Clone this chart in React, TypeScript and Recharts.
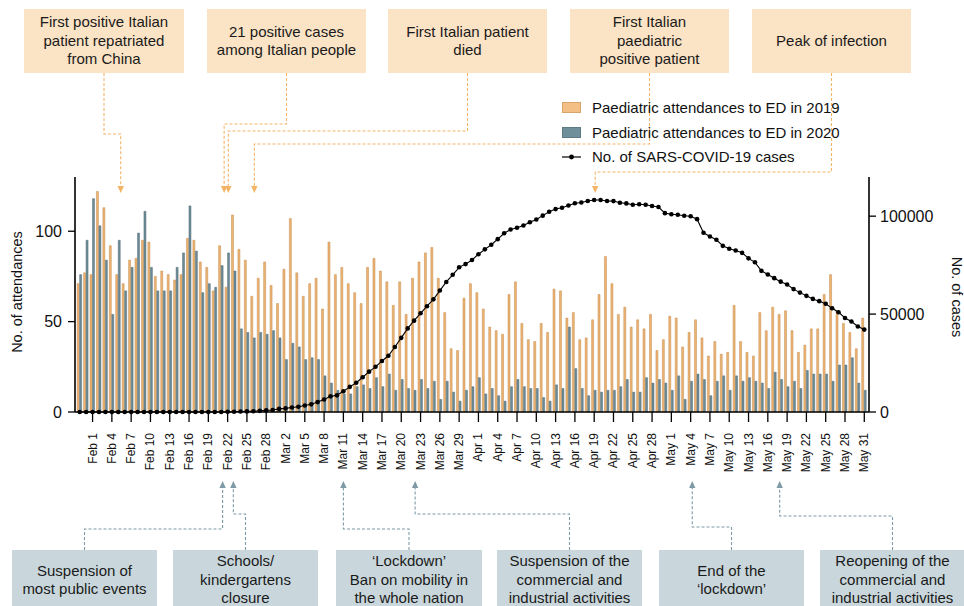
import React from "react";
import { ComposedChart, Bar, Line, XAxis, YAxis } from "recharts";

const FONT = '"Liberation Sans", Arial, Helvetica, sans-serif';

// days shown on the x axis, Jan 30 to May 31 2020
const MONTH_SPANS: [string, number, number][] = [
  ["Jan", 30, 31],
  ["Feb", 1, 29],
  ["Mar", 1, 31],
  ["Apr", 1, 30],
  ["May", 1, 31],
];
const DAYS: string[] = MONTH_SPANS.flatMap(([m, from, to]) =>
  Array.from({ length: to - from + 1 }, (_, k) => `${m} ${from + k}`)
);

const TICK_LABELS = [
  "Feb 1", "Feb 4", "Feb 7", "Feb 10", "Feb 13", "Feb 16", "Feb 19", "Feb 22", "Feb 25", "Feb 28",
  "Mar 2", "Mar 5", "Mar 8", "Mar 11", "Mar 14", "Mar 17", "Mar 20", "Mar 23", "Mar 26", "Mar 29",
  "Apr 1", "Apr 4", "Apr 7", "Apr 10", "Apr 13", "Apr 16", "Apr 19", "Apr 22", "Apr 25", "Apr 28",
  "May 1", "May 4", "May 7", "May 10", "May 13", "May 16", "May 19", "May 22", "May 25", "May 28", "May 31",
];

// paediatric ED attendances, same calendar days in 2019
const ED_2019 = [
  71, 77,
  76, 122, 113, 92, 76, 71, 84, 85, 95, 94, 75, 78, 76, 73, 76, 96, 95, 83, 80, 67, 92, 69, 109, 90, 84, 64, 74, 83, 70,
  60, 79, 107, 77, 64, 71, 74, 57, 94, 76, 80, 71, 66, 60, 80, 85, 78, 72, 59, 72, 54, 74, 83, 88, 91, 74, 55, 35, 34, 63, 71,
  66, 57, 47, 45, 43, 65, 72, 49, 40, 39, 49, 44, 68, 67, 52, 55, 40, 41, 51, 65, 86, 71, 54, 58, 47, 51, 46, 54, 34, 40,
  53, 52, 36, 44, 51, 41, 31, 39, 32, 33, 59, 39, 33, 31, 55, 45, 58, 54, 56, 45, 33, 37, 46, 46, 65, 76, 56, 49, 44, 35, 52,
];

// paediatric ED attendances in 2020
const ED_2020 = [
  76, 95,
  118, 103, 84, 54, 95, 67, 80, 99, 111, 80, 67, 67, 67, 80, 88, 114, 89, 66, 71, 69, 81, 88, 78, 46, 44, 41, 44, 43, 45,
  41, 29, 38, 36, 29, 30, 29, 20, 16, 12, 10, 10, 14, 15, 13, 19, 14, 21, 12, 18, 13, 12, 18, 13, 17, 7, 17, 11, 6, 12, 14,
  19, 10, 13, 9, 6, 14, 18, 14, 13, 13, 8, 6, 15, 13, 47, 24, 13, 9, 12, 11, 12, 12, 14, 18, 11, 11, 19, 16, 18, 16,
  12, 20, 7, 17, 21, 18, 9, 17, 20, 12, 20, 17, 19, 17, 16, 13, 22, 18, 14, 17, 13, 23, 21, 21, 21, 17, 26, 26, 30, 16, 12,
];

// currently positive SARS-CoV-2 cases in Italy
const CASES = [
  0, 2,
  2, 2, 2, 2, 2, 3, 3, 3, 3, 3, 3, 3, 3, 3, 3, 3, 3, 3, 3, 3,
  20, 79, 150, 221, 311, 385, 588, 821, 1049,
  1577, 1835, 2263, 2706, 3296, 3916, 5061, 6387, 7985, 8514, 10590, 12839, 14955, 17750, 20603, 23073,
  26062, 28710, 33190, 37860, 42681, 46638, 50418, 54030, 57521, 62013, 66414, 70065, 73880, 75528, 77635,
  80572, 83049, 85388, 88274, 91246, 93187, 94067, 95262, 96877, 98273, 100269, 102253, 103616, 104291, 105418,
  106607, 106962, 107771, 108257, 108237, 107709, 107699, 106848, 106527, 105847, 106103, 105813, 105205, 104657, 101551,
  100943, 100704, 100179, 99980, 98467, 91528, 89624, 87961, 84842, 83324, 82488, 81266, 78457, 76440, 72070, 70187,
  68351, 66553, 65129, 62752, 60960, 59322, 57752, 56594, 55300, 52942, 50966, 47986, 46175, 43691, 42075,
];

const TOP_NOTES = [
  { lines: ["First positive Italian", "patient repatriated", "from China"], day: "Feb 6", nudge: -4, box: [24, 184], elbow: 134 },
  { lines: ["21 positive cases", "among Italian people"], day: "Feb 22", nudge: -3.5, box: [207, 366], elbow: 124 },
  { lines: ["First Italian patient", "died"], day: "Feb 22", nudge: 0.7, box: [388, 547], elbow: 131 },
  { lines: ["First Italian", "paediatric", "positive patient"], day: "Feb 26", nudge: 1, box: [570, 729], elbow: 144 },
  { lines: ["Peak of infection"], day: "Apr 19", nudge: 1, box: [752, 911], elbow: 172 },
];

const BOTTOM_NOTES = [
  { lines: ["Suspension of", "most public events"], day: "Feb 21", nudge: 1.4, box: [12, 157], elbow: 529 },
  { lines: ["Schools/", "kindergartens", "closure"], day: "Feb 23", nudge: -0.7, box: [173, 318], elbow: 514 },
  { lines: ["\u2018Lockdown\u2019", "Ban on mobility in", "the whole nation"], day: "Mar 11", nudge: 0, box: [336, 482], elbow: 529 },
  { lines: ["Suspension of the", "commercial and", "industrial activities"], day: "Mar 22", nudge: 1, box: [497, 642], elbow: 514 },
  { lines: ["End of the", "\u2018lockdown\u2019"], day: "May 4", nudge: 1.6, box: [659, 804], elbow: 527 },
  { lines: ["Reopening of the", "commercial and", "industrial activities"], day: "May 18", nudge: -1, box: [820, 965], elbow: 516 },
];

const data = DAYS.map((day, i) => ({
  day,
  ed2019: ED_2019[i],
  ed2020: ED_2020[i],
  cases: CASES[i],
}));

const PLOT = { left: 75, right: 869, top: 177, bottom: 412 };
const X_PAD = 1.5;
const BAND = (PLOT.right - PLOT.left - 2 * X_PAD) / DAYS.length;
const xOf = (day: string) => PLOT.left + X_PAD + BAND * (DAYS.indexOf(day) + 0.5);

const ORANGE = "#EDB372";
const ORANGE_EDGE = "#C48D4F";
const BLUE = "#6C8B96";
const BLUE_EDGE = "#556F79";
const ORANGE_DASH = "#F3B466";
const BLUE_DASH = "#7D9AA6";

function DateTick(props: any) {
  const { x, y, payload } = props;
  return (
    <text
      x={x}
      y={y}
      transform={`rotate(-90, ${x}, ${y})`}
      textAnchor="end"
      dominantBaseline="central"
      fontSize={12}
      fill="#111"
    >
      {payload.value}
    </text>
  );
}

function NoteBox({ lines, box, top, height, bg }: any) {
  return (
    <div
      style={{
        position: "absolute",
        left: box[0],
        top,
        width: box[1] - box[0],
        height,
        background: bg,
        display: "flex",
        flexDirection: "column",
        alignItems: "center",
        justifyContent: "center",
        fontSize: 15,
        lineHeight: "18.4px",
        color: "#1a1a1a",
        textAlign: "center",
        whiteSpace: "nowrap",
      }}
    >
      {lines.map((l: string) => (
        <div key={l}>{l}</div>
      ))}
    </div>
  );
}

function Legend() {
  const row = (top: number, icon: React.ReactNode, label: string) => (
    <div style={{ position: "absolute", left: 562, top: top - 10, height: 20, display: "flex", alignItems: "center" }}>
      <div style={{ width: 19, display: "flex", justifyContent: "center" }}>{icon}</div>
      <div style={{ marginLeft: 11, fontSize: 15, color: "#111", whiteSpace: "nowrap" }}>{label}</div>
    </div>
  );
  const square = (fill: string, edge: string) => (
    <div style={{ width: 18, height: 9, background: fill, border: `1px solid ${edge}` }} />
  );
  return (
    <>
      {row(107.5, square("#F4BF85", "#D7A46C"), "Paediatric attendances to ED in 2019")}
      {row(132.5, square("#6F8F9B", "#5E7A85"), "Paediatric attendances to ED in 2020")}
      {row(
        156.5,
        <svg width={19} height={6}>
          <line x1={0} y1={3} x2={19} y2={3} stroke="#000" strokeWidth={1.2} />
          <circle cx={9.5} cy={3} r={2.4} fill="#000" />
        </svg>,
        "No. of SARS-COVID-19 cases"
      )}
    </>
  );
}

export default function App() {
  return (
    <div
      style={{
        position: "fixed",
        left: 0,
        top: 0,
        width: 964,
        height: 606,
        overflow: "hidden",
        background: "#fff",
        fontFamily: FONT,
      }}
    >
      <div style={{ position: "absolute", left: 0, top: 0 }}>
        <ComposedChart
          width={964}
          height={606}
          data={data}
          margin={{ top: PLOT.top, right: 35, bottom: 134, left: 15 }}
          barCategoryGap="10%"
          barGap={0.5}
        >
          <XAxis
            dataKey="day"
            ticks={TICK_LABELS}
            interval={0}
            tick={<DateTick />}
            tickSize={10}
            tickMargin={11}
            tickLine={{ stroke: "#000", strokeWidth: 1.3 }}
            axisLine={{ stroke: "#000", strokeWidth: 1.6 }}
            height={60}
            padding={{ left: X_PAD, right: X_PAD }}
          />
          <YAxis
            yAxisId="left"
            domain={[0, 130]}
            ticks={[0, 50, 100]}
            width={60}
            tickSize={7}
            tickMargin={6}
            tick={{ fill: "#111", fontSize: 16 }}
            tickLine={{ stroke: "#000", strokeWidth: 1.3 }}
            axisLine={{ stroke: "#000", strokeWidth: 1.6 }}
          />
          <YAxis
            yAxisId="right"
            orientation="right"
            domain={[0, 120000]}
            ticks={[0, 50000, 100000]}
            width={60}
            tickSize={7}
            tickMargin={4}
            tick={{ fill: "#111", fontSize: 16 }}
            tickLine={{ stroke: "#000", strokeWidth: 1.3 }}
            axisLine={{ stroke: "#000", strokeWidth: 1.6 }}
          />
          <Bar
            yAxisId="left"
            dataKey="ed2019"
            fill={ORANGE}
            stroke={ORANGE_EDGE}
            strokeWidth={0.5}
            isAnimationActive={false}
          />
          <Bar
            yAxisId="left"
            dataKey="ed2020"
            fill={BLUE}
            stroke={BLUE_EDGE}
            strokeWidth={0.5}
            isAnimationActive={false}
          />
          <Line
            yAxisId="right"
            dataKey="cases"
            stroke="#000"
            strokeWidth={1.1}
            dot={{ r: 2.3, fill: "#000", stroke: "none" }}
            activeDot={false}
            isAnimationActive={false}
          />
        </ComposedChart>
      </div>

      <svg width={964} height={606} style={{ position: "absolute", left: 0, top: 0, pointerEvents: "none" }}>
        {TOP_NOTES.map((n) => {
          const cx = (n.box[0] + n.box[1]) / 2;
          const tx = xOf(n.day) + n.nudge;
          return (
            <g key={n.lines[0]}>
              <path
                d={`M${cx},73 V${n.elbow} H${tx} V186`}
                fill="none"
                stroke={ORANGE_DASH}
                strokeWidth={1.1}
                strokeDasharray="3 2"
              />
              <polygon points={`${tx - 3.2},186 ${tx + 3.2},186 ${tx},193`} fill={ORANGE_DASH} />
            </g>
          );
        })}
        {BOTTOM_NOTES.map((n) => {
          const cx = (n.box[0] + n.box[1]) / 2;
          const tx = xOf(n.day) + n.nudge;
          return (
            <g key={n.lines[0] + n.day}>
              <path
                d={`M${cx},550 V${n.elbow} H${tx} V488`}
                fill="none"
                stroke={BLUE_DASH}
                strokeWidth={1.1}
                strokeDasharray="3 2"
              />
              <polygon points={`${tx - 3.2},488 ${tx + 3.2},488 ${tx},481`} fill={BLUE_DASH} />
            </g>
          );
        })}
        <text
          x={17}
          y={292}
          transform="rotate(-90, 17, 292)"
          textAnchor="middle"
          dominantBaseline="central"
          fontSize={14.5}
          fill="#111"
        >
          No. of attendances
        </text>
        <text
          x={957}
          y={297}
          transform="rotate(90, 957, 297)"
          textAnchor="middle"
          dominantBaseline="central"
          fontSize={14.5}
          fill="#111"
        >
          No. of cases
        </text>
      </svg>

      {TOP_NOTES.map((n) => (
        <NoteBox key={n.lines[0]} lines={n.lines} box={n.box} top={9} height={64} bg="#FBE3C5" />
      ))}
      {BOTTOM_NOTES.map((n) => (
        <NoteBox key={n.lines[0] + n.day} lines={n.lines} box={n.box} top={550} height={60} bg="#C9D7DC" />
      ))}
      <Legend />
    </div>
  );
}
